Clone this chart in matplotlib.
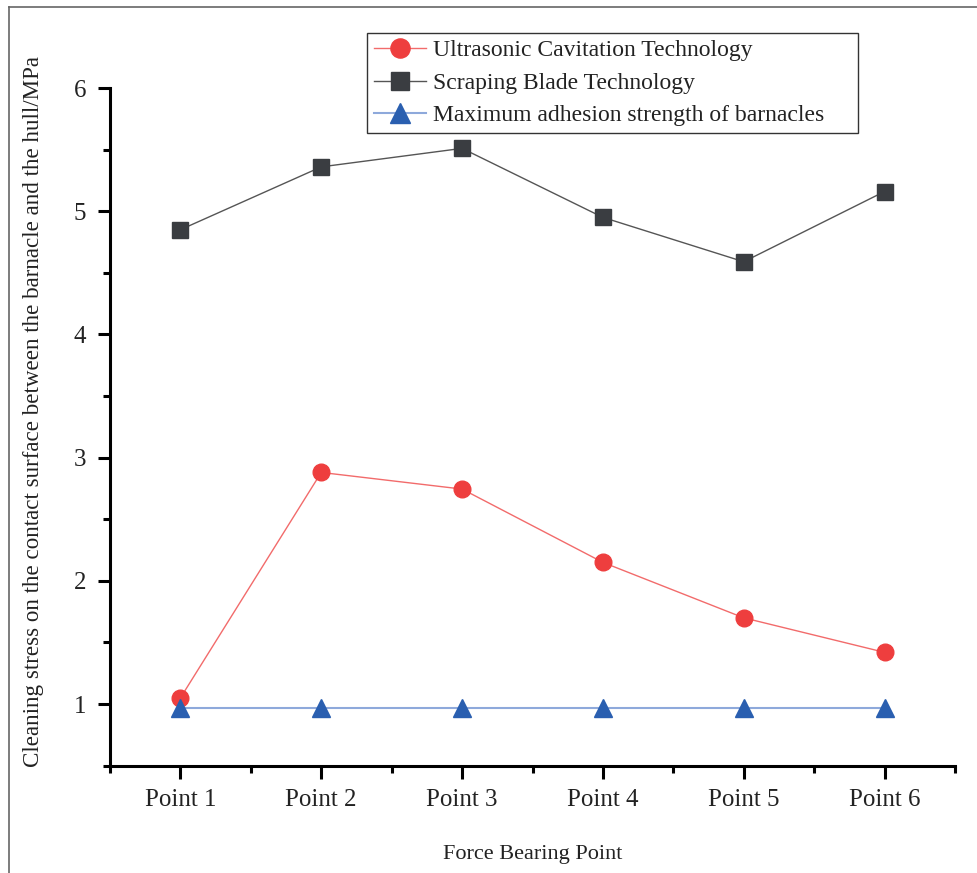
import numpy as np
import matplotlib
matplotlib.use('Agg')
import matplotlib.pyplot as plt
from matplotlib.lines import Line2D
from matplotlib.ticker import MultipleLocator

plt.rcParams['font.family'] = ['Liberation Serif', 'DejaVu Serif']

# force bearing points and measured stresses (MPa)
points = ['Point 1', 'Point 2', 'Point 3', 'Point 4', 'Point 5', 'Point 6']
ultrasonic = [1.05, 2.88, 2.745, 2.15, 1.70, 1.42]
scraping = [4.85, 5.36, 5.51, 4.95, 4.59, 5.16]
barnacle_max = [0.97, 0.97, 0.97, 0.97, 0.97, 0.97]

x = np.arange(1, len(points) + 1)

fig = plt.figure(figsize=(9.78, 8.73), dpi=100)
W, H = 978, 873
ax = fig.add_axes([110 / W, 1 - 765.7 / H, (955 - 110) / W, (765.7 - 88) / H])

ax.plot(x, ultrasonic, '-', color='#F26B6B', lw=1.0, marker='o', ms=12,
        mfc='#EE3E3E', mec='#EE3E3E', label='Ultrasonic Cavitation Technology')
ax.plot(x, scraping, '-', color='#555555', lw=1.0, marker='s', ms=11.5,
        mfc='#3A3D41', mec='#3A3D41', label='Scraping Blade Technology')
ax.plot(x, barnacle_max, '-', color='#8EA9DB', lw=1.5, marker='^', ms=13,
        mfc='#2A5FB0', mec='#2A5FB0', label='Maximum adhesion strength of barnacles')

ax.set_xlim(0.5, 6.5)
ax.set_ylim(0.5, 6)
ax.set_xticks(x)
ax.set_xticklabels(points)
ax.xaxis.set_minor_locator(MultipleLocator(0.5))
ax.set_yticks([1, 2, 3, 4, 5, 6])
ax.yaxis.set_minor_locator(MultipleLocator(0.5))

for s in ['top', 'right']:
    ax.spines[s].set_visible(False)
for s in ['left', 'bottom']:
    ax.spines[s].set_linewidth(2.2)
ax.tick_params(which='major', direction='out', length=9, width=2.2, labelsize=18,
               pad=8, labelcolor='#222222')
ax.tick_params(which='minor', direction='out', length=5, width=2.2)

ax.set_xlabel('Force Bearing Point', fontsize=16, labelpad=24, color='#222222')
ax.set_ylabel('Cleaning stress on the contact surface between the barnacle and the hull/MPa',
              fontsize=16.6, color='#222222')
ax.yaxis.set_label_coords(-0.078, 0.522)

# legend box stretched across its anchor width
lx0 = (367 - 110) / 845
ly1 = 1 + (88 - 33) / 677.7
leg = ax.legend(loc='upper left', bbox_to_anchor=(lx0, ly1 - 0.2, (858 - 367) / 845, 0.2),
                mode='expand', fontsize=17, frameon=True, fancybox=False, framealpha=1,
                edgecolor='#333333', handlelength=2.2, handletextpad=0.3,
                borderpad=0.28, labelspacing=0.47, borderaxespad=0, markerscale=1.15)
leg.get_frame().set_linewidth(1.0)
for t in leg.get_texts():
    t.set_color('#222222')

# outer frame (left and top edges only)
fig.add_artist(Line2D([9 / W, 9 / W], [0, 1 - 7 / H], color='#666666', lw=1.2))
fig.add_artist(Line2D([9 / W, 1], [1 - 7 / H, 1 - 7 / H], color='#666666', lw=1.2))

fig.savefig('out.png', dpi=100)
